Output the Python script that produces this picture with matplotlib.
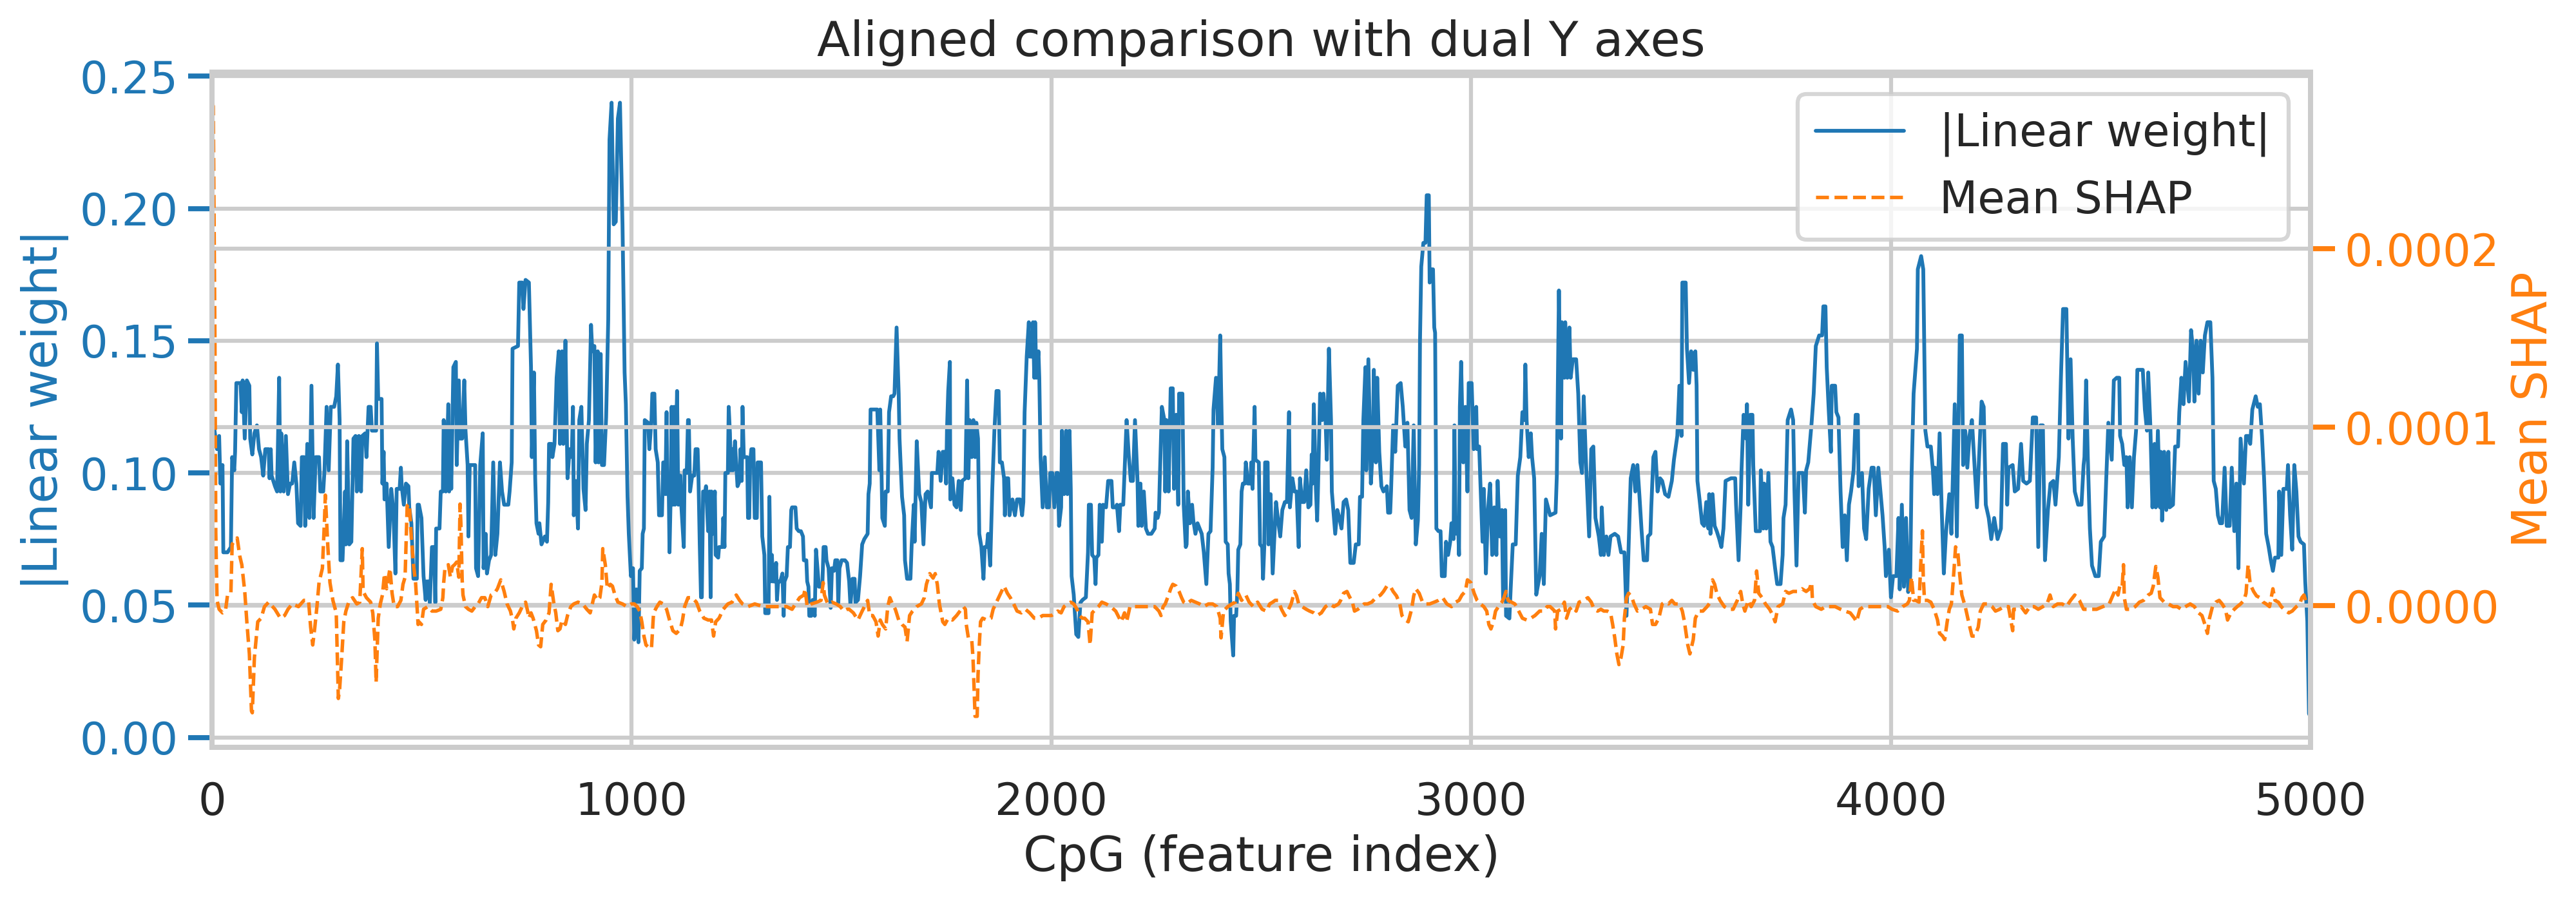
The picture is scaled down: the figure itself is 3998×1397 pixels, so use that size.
import numpy as np
import matplotlib
matplotlib.use("Agg")
import matplotlib.pyplot as plt
import seaborn as sns

# |linear weight| per CpG as (feature index, value)
weight_trace = [
    (0, 0.123), (6, 0.116), (12, 0.109), (17, 0.114), (20, 0.096), (25, 0.103), (27, 0.070), (37, 0.070),
    (45, 0.072), (48, 0.106), (53, 0.101), (55, 0.108), (58, 0.134), (68, 0.134), (71, 0.123), (73, 0.135),
    (78, 0.113), (83, 0.135), (89, 0.133), (91, 0.113), (96, 0.107), (101, 0.115), (107, 0.118), (112, 0.109),
    (117, 0.106), (122, 0.099), (127, 0.109), (135, 0.109), (137, 0.098), (140, 0.109), (142, 0.099), (150, 0.095),
    (155, 0.093), (160, 0.136), (163, 0.093), (165, 0.115), (171, 0.093), (176, 0.114), (181, 0.092), (186, 0.096),
    (191, 0.096), (196, 0.104), (201, 0.096), (205, 0.081), (211, 0.080), (214, 0.106), (219, 0.106), (222, 0.080),
    (227, 0.111), (232, 0.083), (237, 0.133), (242, 0.083), (247, 0.106), (255, 0.106), (258, 0.093), (265, 0.093),
    (268, 0.101), (273, 0.125), (278, 0.101), (283, 0.125), (291, 0.125), (296, 0.129), (300, 0.141), (304, 0.120),
    (306, 0.067), (311, 0.067), (317, 0.093), (319, 0.073), (322, 0.112), (327, 0.073), (332, 0.074), (337, 0.113),
    (342, 0.114), (345, 0.093), (350, 0.114), (355, 0.093), (358, 0.114), (365, 0.115), (368, 0.106), (373, 0.125),
    (378, 0.125), (381, 0.116), (391, 0.116), (393, 0.149), (396, 0.128), (404, 0.128), (406, 0.096), (409, 0.108),
    (411, 0.090), (416, 0.096), (421, 0.072), (427, 0.094), (432, 0.086), (437, 0.062), (440, 0.094), (447, 0.094),
    (450, 0.102), (452, 0.095), (457, 0.088), (462, 0.096), (468, 0.095), (470, 0.087), (475, 0.081), (480, 0.060),
    (488, 0.060), (490, 0.088), (493, 0.088), (499, 0.083), (504, 0.061), (509, 0.052), (511, 0.059), (516, 0.059),
    (519, 0.051), (524, 0.072), (529, 0.072), (532, 0.051), (534, 0.079), (542, 0.079), (545, 0.093), (550, 0.093),
    (552, 0.120), (557, 0.093), (563, 0.126), (565, 0.093), (568, 0.113), (570, 0.094), (575, 0.140), (581, 0.142),
    (583, 0.103), (588, 0.135), (591, 0.113), (596, 0.113), (601, 0.135), (604, 0.116), (609, 0.103), (611, 0.076),
    (614, 0.103), (627, 0.103), (629, 0.064), (634, 0.061), (639, 0.103), (645, 0.115), (647, 0.064), (652, 0.077),
    (655, 0.062), (660, 0.067), (665, 0.069), (670, 0.104), (675, 0.069), (680, 0.077), (686, 0.104), (691, 0.093),
    (696, 0.088), (706, 0.088), (709, 0.093), (714, 0.104), (716, 0.147), (729, 0.148), (732, 0.172), (739, 0.172),
    (742, 0.162), (747, 0.173), (755, 0.172), (760, 0.140), (762, 0.106), (767, 0.138), (770, 0.098), (773, 0.081),
    (778, 0.077), (780, 0.081), (785, 0.073), (793, 0.076), (798, 0.074), (801, 0.089), (803, 0.111), (809, 0.111),
    (811, 0.106), (816, 0.111), (821, 0.136), (826, 0.146), (829, 0.111), (834, 0.146), (837, 0.111), (842, 0.150),
    (847, 0.098), (852, 0.109), (857, 0.106), (860, 0.125), (862, 0.084), (867, 0.097), (872, 0.079), (875, 0.120),
    (880, 0.125), (885, 0.094), (890, 0.086), (893, 0.111), (898, 0.120), (903, 0.156), (906, 0.146), (911, 0.148),
    (914, 0.104), (919, 0.146), (921, 0.104), (926, 0.145), (929, 0.103), (934, 0.103), (939, 0.121), (944, 0.158),
    (947, 0.226), (952, 0.240), (957, 0.194), (962, 0.195), (967, 0.234), (972, 0.240), (978, 0.194), (983, 0.138),
    (986, 0.126), (990, 0.091), (993, 0.077), (998, 0.061), (1003, 0.064), (1006, 0.037), (1011, 0.056), (1016, 0.036),
    (1019, 0.063), (1024, 0.064), (1026, 0.077), (1029, 0.079), (1031, 0.120), (1039, 0.119), (1042, 0.109), (1047, 0.120),
    (1049, 0.130), (1054, 0.130), (1057, 0.109), (1062, 0.104), (1065, 0.084), (1072, 0.084), (1075, 0.104), (1077, 0.104),
    (1080, 0.092), (1083, 0.123), (1085, 0.092), (1088, 0.096), (1090, 0.070), (1093, 0.093), (1095, 0.125), (1098, 0.088),
    (1101, 0.125), (1103, 0.088), (1106, 0.116), (1108, 0.131), (1111, 0.088), (1116, 0.099), (1118, 0.088), (1124, 0.072),
    (1126, 0.101), (1131, 0.100), (1134, 0.120), (1136, 0.120), (1139, 0.093), (1144, 0.099), (1149, 0.099), (1152, 0.109),
    (1157, 0.109), (1159, 0.098), (1162, 0.073), (1165, 0.053), (1167, 0.053), (1170, 0.093), (1175, 0.093), (1177, 0.095),
    (1182, 0.078), (1185, 0.093), (1188, 0.053), (1190, 0.093), (1193, 0.077), (1198, 0.093), (1200, 0.069), (1206, 0.068),
    (1208, 0.072), (1216, 0.072), (1218, 0.083), (1221, 0.072), (1223, 0.100), (1229, 0.100), (1231, 0.125), (1234, 0.115),
    (1236, 0.101), (1239, 0.109), (1241, 0.101), (1246, 0.112), (1249, 0.103), (1252, 0.095), (1257, 0.097), (1259, 0.109),
    (1262, 0.097), (1264, 0.125), (1267, 0.106), (1275, 0.106), (1277, 0.083), (1280, 0.083), (1282, 0.104), (1285, 0.109),
    (1290, 0.109), (1293, 0.083), (1298, 0.083), (1300, 0.104), (1308, 0.104), (1311, 0.076), (1316, 0.069), (1318, 0.047),
    (1326, 0.047), (1328, 0.091), (1331, 0.059), (1334, 0.069), (1336, 0.059), (1341, 0.059), (1344, 0.066), (1346, 0.052),
    (1349, 0.059), (1354, 0.059), (1359, 0.062), (1362, 0.046), (1364, 0.059), (1369, 0.061), (1372, 0.072), (1377, 0.072),
    (1380, 0.086), (1382, 0.087), (1390, 0.087), (1393, 0.079), (1398, 0.078), (1403, 0.078), (1408, 0.076), (1410, 0.067),
    (1416, 0.067), (1418, 0.059), (1421, 0.057), (1423, 0.046), (1428, 0.046), (1431, 0.052), (1436, 0.046), (1439, 0.071),
    (1446, 0.057), (1454, 0.057), (1457, 0.072), (1462, 0.072), (1464, 0.067), (1469, 0.064), (1474, 0.049), (1477, 0.064),
    (1482, 0.063), (1485, 0.067), (1490, 0.067), (1492, 0.050), (1495, 0.064), (1500, 0.067), (1505, 0.067), (1508, 0.067),
    (1513, 0.066), (1518, 0.059), (1521, 0.050), (1526, 0.060), (1531, 0.060), (1533, 0.051), (1539, 0.052), (1544, 0.061),
    (1549, 0.073), (1554, 0.075), (1562, 0.077), (1564, 0.092), (1567, 0.096), (1569, 0.124), (1585, 0.124), (1590, 0.101),
    (1592, 0.124), (1595, 0.101), (1597, 0.083), (1603, 0.080), (1605, 0.093), (1610, 0.093), (1613, 0.123), (1618, 0.129),
    (1623, 0.129), (1626, 0.130), (1631, 0.155), (1636, 0.130), (1638, 0.113), (1644, 0.091), (1649, 0.084), (1651, 0.067),
    (1656, 0.060), (1664, 0.060), (1667, 0.073), (1672, 0.088), (1674, 0.074), (1679, 0.112), (1685, 0.092), (1690, 0.089),
    (1695, 0.073), (1700, 0.092), (1705, 0.093), (1713, 0.087), (1715, 0.100), (1728, 0.100), (1731, 0.108), (1736, 0.097),
    (1741, 0.108), (1746, 0.108), (1749, 0.096), (1751, 0.116), (1754, 0.131), (1758, 0.142), (1759, 0.090), (1764, 0.098),
    (1769, 0.088), (1774, 0.087), (1779, 0.097), (1784, 0.086), (1787, 0.097), (1795, 0.098), (1799, 0.135), (1802, 0.098),
    (1805, 0.120), (1810, 0.106), (1814, 0.120), (1818, 0.106), (1821, 0.119), (1825, 0.113), (1828, 0.077), (1833, 0.072),
    (1838, 0.060), (1841, 0.072), (1846, 0.072), (1849, 0.077), (1854, 0.065), (1856, 0.077), (1859, 0.094), (1864, 0.116),
    (1869, 0.131), (1874, 0.131), (1877, 0.104), (1882, 0.104), (1887, 0.098), (1889, 0.084), (1892, 0.098), (1897, 0.098),
    (1900, 0.084), (1902, 0.086), (1907, 0.090), (1913, 0.084), (1918, 0.090), (1925, 0.090), (1930, 0.084), (1933, 0.089),
    (1936, 0.123), (1941, 0.144), (1946, 0.157), (1948, 0.144), (1954, 0.144), (1956, 0.157), (1959, 0.136), (1961, 0.157),
    (1964, 0.136), (1969, 0.146), (1971, 0.136), (1974, 0.106), (1979, 0.087), (1984, 0.106), (1989, 0.087), (1994, 0.087),
    (1997, 0.100), (2002, 0.100), (2007, 0.087), (2012, 0.100), (2015, 0.100), (2018, 0.080), (2023, 0.087), (2025, 0.116),
    (2030, 0.092), (2035, 0.116), (2038, 0.092), (2043, 0.116), (2046, 0.094), (2048, 0.061), (2053, 0.054), (2059, 0.039),
    (2064, 0.038), (2069, 0.051), (2074, 0.052), (2082, 0.053), (2087, 0.070), (2089, 0.088), (2094, 0.088), (2097, 0.069),
    (2102, 0.068), (2105, 0.058), (2107, 0.068), (2112, 0.069), (2115, 0.088), (2120, 0.074), (2123, 0.088), (2130, 0.087),
    (2135, 0.097), (2143, 0.097), (2146, 0.087), (2153, 0.087), (2156, 0.088), (2161, 0.078), (2164, 0.088), (2171, 0.088),
    (2174, 0.100), (2179, 0.120), (2184, 0.107), (2189, 0.097), (2194, 0.097), (2199, 0.120), (2205, 0.097), (2207, 0.080),
    (2212, 0.096), (2215, 0.080), (2220, 0.093), (2225, 0.079), (2230, 0.077), (2238, 0.077), (2246, 0.079), (2248, 0.085),
    (2253, 0.083), (2256, 0.085), (2258, 0.097), (2263, 0.125), (2269, 0.120), (2271, 0.093), (2274, 0.120), (2279, 0.093),
    (2284, 0.132), (2289, 0.132), (2292, 0.094), (2297, 0.122), (2302, 0.088), (2304, 0.130), (2312, 0.130), (2315, 0.088),
    (2320, 0.072), (2322, 0.073), (2325, 0.093), (2330, 0.081), (2335, 0.088), (2338, 0.082), (2343, 0.077), (2348, 0.081),
    (2353, 0.079), (2358, 0.077), (2363, 0.070), (2369, 0.058), (2374, 0.077), (2379, 0.078), (2384, 0.102), (2386, 0.124),
    (2392, 0.136), (2397, 0.118), (2402, 0.152), (2404, 0.133), (2407, 0.109), (2412, 0.106), (2415, 0.074), (2420, 0.073),
    (2422, 0.062), (2425, 0.058), (2427, 0.044), (2433, 0.031), (2435, 0.046), (2440, 0.046), (2443, 0.056), (2445, 0.071),
    (2450, 0.073), (2453, 0.093), (2456, 0.096), (2461, 0.096), (2463, 0.104), (2468, 0.096), (2474, 0.096), (2476, 0.104),
    (2479, 0.094), (2484, 0.125), (2486, 0.105), (2494, 0.104), (2497, 0.073), (2502, 0.072), (2504, 0.060), (2507, 0.072),
    (2509, 0.104), (2515, 0.104), (2517, 0.073), (2520, 0.091), (2522, 0.092), (2527, 0.062), (2530, 0.072), (2535, 0.089),
    (2540, 0.082), (2545, 0.076), (2550, 0.086), (2556, 0.089), (2561, 0.089), (2566, 0.123), (2568, 0.087), (2574, 0.098),
    (2579, 0.093), (2584, 0.093), (2589, 0.072), (2592, 0.098), (2597, 0.089), (2602, 0.089), (2607, 0.101), (2612, 0.087),
    (2617, 0.088), (2620, 0.107), (2622, 0.096), (2625, 0.126), (2630, 0.094), (2633, 0.082), (2635, 0.094), (2640, 0.130),
    (2645, 0.120), (2648, 0.130), (2653, 0.120), (2656, 0.105), (2661, 0.147), (2666, 0.120), (2668, 0.093), (2673, 0.083),
    (2676, 0.077), (2681, 0.086), (2686, 0.083), (2691, 0.079), (2696, 0.089), (2702, 0.090), (2707, 0.086), (2712, 0.066),
    (2720, 0.066), (2725, 0.073), (2732, 0.073), (2735, 0.091), (2740, 0.091), (2743, 0.120), (2748, 0.140), (2750, 0.101),
    (2755, 0.143), (2761, 0.096), (2766, 0.111), (2768, 0.139), (2773, 0.104), (2776, 0.136), (2781, 0.108), (2786, 0.095),
    (2791, 0.093), (2799, 0.095), (2802, 0.085), (2807, 0.085), (2809, 0.093), (2814, 0.118), (2819, 0.108), (2825, 0.133),
    (2832, 0.134), (2837, 0.125), (2843, 0.110), (2848, 0.119), (2853, 0.086), (2858, 0.083), (2863, 0.118), (2868, 0.073),
    (2873, 0.082), (2876, 0.103), (2878, 0.150), (2881, 0.178), (2886, 0.187), (2891, 0.187), (2894, 0.205), (2899, 0.205),
    (2901, 0.172), (2904, 0.177), (2909, 0.177), (2912, 0.155), (2914, 0.153), (2917, 0.079), (2922, 0.078), (2927, 0.078),
    (2930, 0.061), (2937, 0.061), (2940, 0.074), (2945, 0.069), (2950, 0.074), (2953, 0.081), (2958, 0.075), (2960, 0.118),
    (2963, 0.077), (2968, 0.083), (2971, 0.069), (2973, 0.125), (2976, 0.142), (2981, 0.104), (2986, 0.125), (2991, 0.093),
    (2994, 0.134), (3001, 0.134), (3006, 0.109), (3012, 0.125), (3014, 0.109), (3019, 0.110), (3022, 0.096), (3027, 0.074),
    (3030, 0.094), (3035, 0.062), (3040, 0.086), (3045, 0.096), (3050, 0.069), (3055, 0.087), (3060, 0.069), (3063, 0.097),
    (3068, 0.076), (3073, 0.086), (3076, 0.052), (3081, 0.086), (3083, 0.046), (3091, 0.045), (3094, 0.056), (3099, 0.073),
    (3106, 0.073), (3111, 0.099), (3117, 0.106), (3122, 0.123), (3127, 0.120), (3129, 0.141), (3132, 0.120), (3137, 0.106),
    (3142, 0.115), (3145, 0.106), (3150, 0.098), (3155, 0.054), (3163, 0.061), (3168, 0.077), (3173, 0.058), (3178, 0.090),
    (3188, 0.084), (3201, 0.085), (3204, 0.099), (3206, 0.128), (3209, 0.169), (3214, 0.113), (3216, 0.157), (3222, 0.136),
    (3224, 0.157), (3229, 0.136), (3234, 0.155), (3237, 0.136), (3242, 0.143), (3250, 0.143), (3255, 0.130), (3260, 0.104),
    (3264, 0.100), (3268, 0.129), (3273, 0.106), (3281, 0.076), (3286, 0.109), (3291, 0.110), (3296, 0.083), (3304, 0.076),
    (3309, 0.069), (3311, 0.087), (3316, 0.069), (3322, 0.076), (3327, 0.069), (3332, 0.076), (3342, 0.077), (3350, 0.076),
    (3357, 0.070), (3365, 0.070), (3370, 0.046), (3375, 0.072), (3380, 0.098), (3386, 0.103), (3391, 0.093), (3396, 0.103),
    (3401, 0.091), (3406, 0.078), (3411, 0.067), (3419, 0.067), (3421, 0.076), (3427, 0.077), (3429, 0.087), (3434, 0.106),
    (3439, 0.108), (3444, 0.093), (3450, 0.098), (3455, 0.097), (3462, 0.092), (3470, 0.091), (3478, 0.097), (3483, 0.105),
    (3491, 0.114), (3496, 0.133), (3501, 0.114), (3503, 0.172), (3511, 0.172), (3514, 0.147), (3519, 0.134), (3524, 0.146),
    (3529, 0.139), (3534, 0.146), (3537, 0.133), (3539, 0.097), (3544, 0.090), (3550, 0.081), (3555, 0.080), (3560, 0.089),
    (3565, 0.079), (3567, 0.092), (3570, 0.077), (3575, 0.092), (3580, 0.080), (3585, 0.078), (3591, 0.075), (3596, 0.072),
    (3601, 0.079), (3606, 0.097), (3619, 0.098), (3629, 0.098), (3631, 0.088), (3637, 0.067), (3642, 0.088), (3644, 0.101),
    (3649, 0.122), (3655, 0.113), (3657, 0.126), (3660, 0.088), (3665, 0.122), (3670, 0.122), (3672, 0.103), (3678, 0.078),
    (3688, 0.078), (3690, 0.101), (3696, 0.079), (3698, 0.096), (3703, 0.079), (3708, 0.100), (3713, 0.074), (3718, 0.072),
    (3724, 0.064), (3729, 0.058), (3737, 0.058), (3742, 0.069), (3744, 0.083), (3749, 0.088), (3754, 0.120), (3762, 0.124),
    (3767, 0.120), (3770, 0.094), (3775, 0.065), (3780, 0.100), (3790, 0.100), (3795, 0.085), (3798, 0.101), (3803, 0.104),
    (3811, 0.119), (3816, 0.130), (3821, 0.148), (3829, 0.152), (3836, 0.152), (3839, 0.163), (3844, 0.163), (3847, 0.140),
    (3852, 0.123), (3857, 0.108), (3859, 0.133), (3867, 0.133), (3870, 0.123), (3875, 0.121), (3880, 0.093), (3885, 0.072),
    (3890, 0.084), (3895, 0.067), (3900, 0.088), (3905, 0.093), (3911, 0.101), (3916, 0.122), (3921, 0.122), (3923, 0.095),
    (3931, 0.100), (3936, 0.079), (3941, 0.075), (3947, 0.094), (3954, 0.102), (3959, 0.102), (3964, 0.084), (3970, 0.102),
    (3975, 0.093), (3980, 0.084), (3985, 0.072), (3988, 0.061), (3995, 0.071), (4000, 0.053), (4005, 0.061), (4013, 0.061),
    (4018, 0.083), (4021, 0.056), (4026, 0.088), (4031, 0.057), (4036, 0.083), (4041, 0.055), (4046, 0.061), (4049, 0.098),
    (4054, 0.130), (4062, 0.147), (4064, 0.177), (4072, 0.182), (4077, 0.177), (4082, 0.116), (4087, 0.110), (4095, 0.110),
    (4100, 0.101), (4103, 0.092), (4105, 0.102), (4111, 0.092), (4116, 0.115), (4121, 0.086), (4126, 0.062), (4131, 0.077),
    (4139, 0.092), (4144, 0.077), (4152, 0.126), (4157, 0.076), (4164, 0.152), (4169, 0.152), (4172, 0.103), (4177, 0.116),
    (4182, 0.102), (4187, 0.114), (4193, 0.120), (4198, 0.106), (4205, 0.087), (4210, 0.106), (4216, 0.127), (4221, 0.125),
    (4226, 0.088), (4233, 0.083), (4239, 0.075), (4246, 0.083), (4254, 0.075), (4262, 0.079), (4267, 0.111), (4274, 0.111),
    (4277, 0.088), (4280, 0.102), (4290, 0.103), (4295, 0.093), (4303, 0.094), (4310, 0.111), (4315, 0.097), (4323, 0.096),
    (4331, 0.097), (4338, 0.121), (4346, 0.121), (4351, 0.072), (4356, 0.118), (4362, 0.118), (4367, 0.067), (4374, 0.086),
    (4380, 0.096), (4387, 0.097), (4392, 0.088), (4400, 0.106), (4405, 0.136), (4410, 0.162), (4418, 0.162), (4423, 0.113),
    (4428, 0.143), (4433, 0.113), (4438, 0.093), (4446, 0.088), (4454, 0.088), (4459, 0.103), (4461, 0.106), (4465, 0.135),
    (4469, 0.106), (4474, 0.079), (4479, 0.065), (4487, 0.061), (4495, 0.061), (4500, 0.074), (4508, 0.076), (4513, 0.098),
    (4518, 0.119), (4526, 0.105), (4531, 0.135), (4538, 0.136), (4544, 0.136), (4546, 0.114), (4551, 0.111), (4556, 0.103),
    (4561, 0.106), (4564, 0.087), (4569, 0.106), (4574, 0.087), (4579, 0.106), (4584, 0.116), (4587, 0.139), (4600, 0.139),
    (4605, 0.124), (4610, 0.116), (4613, 0.138), (4618, 0.118), (4623, 0.087), (4628, 0.111), (4631, 0.087), (4636, 0.116),
    (4641, 0.087), (4643, 0.108), (4646, 0.082), (4651, 0.108), (4656, 0.086), (4661, 0.108), (4664, 0.087), (4672, 0.088),
    (4677, 0.110), (4684, 0.110), (4687, 0.123), (4692, 0.136), (4697, 0.126), (4702, 0.142), (4710, 0.127), (4715, 0.154),
    (4720, 0.146), (4723, 0.127), (4728, 0.150), (4733, 0.130), (4738, 0.150), (4743, 0.138), (4748, 0.152), (4754, 0.157),
    (4761, 0.157), (4766, 0.136), (4769, 0.097), (4774, 0.094), (4779, 0.084), (4784, 0.081), (4789, 0.081), (4795, 0.102),
    (4800, 0.080), (4807, 0.080), (4812, 0.102), (4818, 0.078), (4823, 0.096), (4828, 0.064), (4833, 0.113), (4841, 0.096),
    (4846, 0.114), (4851, 0.114), (4856, 0.111), (4861, 0.124), (4869, 0.129), (4874, 0.125), (4879, 0.126), (4884, 0.114),
    (4889, 0.098), (4894, 0.077), (4900, 0.072), (4905, 0.067), (4910, 0.063), (4915, 0.068), (4923, 0.068), (4925, 0.093),
    (4930, 0.069), (4935, 0.094), (4943, 0.094), (4946, 0.103), (4951, 0.084), (4956, 0.071), (4961, 0.103), (4966, 0.093),
    (4971, 0.076), (4976, 0.074), (4984, 0.073), (4987, 0.059), (4992, 0.044), (4996, 0.009), (4999, 0.008),
]

# mean SHAP per CpG, (feature index, value in units of 1e-4)
shap_trace = [
    (0, 2.82), (3, 2.80), (7, 1.48), (9, 0.41), (12, 0.03), (17, -0.02), (25, -0.04), (32, -0.03), (37, 0.06),
    (45, 0.07), (48, 0.345), (53, 0.36), (60, 0.38), (66, 0.28), (71, 0.23), (78, 0.08), (83, -0.09), (89, -0.27),
    (94, -0.59), (96, -0.60), (101, -0.29), (109, -0.09), (117, -0.07), (125, -0.005), (135, 0.02), (150, -0.02),
    (163, -0.07), (173, -0.055), (181, -0.02), (191, 0.01), (206, -0.005), (219, 0.03), (230, 0.03), (235, -0.12),
    (240, -0.22), (245, -0.12), (250, -0.005), (255, 0.13), (263, 0.21), (268, 0.48), (270, 0.62), (276, 0.33),
    (281, 0.13), (288, 0.03), (296, -0.04), (301, -0.52), (304, -0.47), (309, -0.29), (314, -0.09), (319, -0.03),
    (327, 0.03), (335, 0.045), (345, 0.01), (352, 0.02), (358, 0.32), (360, 0.08), (368, 0.045), (378, 0.02),
    (383, -0.04), (388, -0.19), (391, -0.43), (396, -0.07), (401, 0.01), (406, 0.06), (411, 0.18), (416, 0.095),
    (424, 0.21), (429, 0.07), (434, -0.005), (442, -0.005), (450, 0.03), (455, 0.12), (460, 0.16), (465, 0.56),
    (470, 0.57), (475, 0.38), (480, 0.23), (485, 0.13), (491, -0.105), (493, -0.09), (499, -0.105), (504, -0.02),
    (514, -0.005), (524, -0.03), (534, -0.03), (545, -0.02), (550, 0.045), (552, 0.13), (555, 0.21), (563, 0.23),
    (568, 0.16), (573, 0.22), (578, 0.23), (583, 0.245), (588, 0.16), (591, 0.57), (593, 0.46), (596, 0.145),
    (598, 0.06), (604, -0.005), (611, -0.02), (619, -0.03), (627, -0.005), (634, 0.01), (642, 0.045), (650, 0.045),
    (657, -0.005), (665, 0.06), (673, 0.07), (680, 0.095), (688, 0.145), (696, 0.08), (703, 0.01), (711, -0.03),
    (716, -0.08), (719, -0.13), (724, -0.07), (732, -0.04), (739, -0.005), (747, 0.02), (752, -0.03), (755, -0.07),
    (760, -0.04), (765, -0.07), (773, -0.14), (778, -0.22), (783, -0.23), (788, -0.105), (796, -0.08), (803, -0.04),
    (808, 0.12), (814, 0.02), (819, -0.04), (824, -0.14), (829, -0.13), (834, -0.08), (842, -0.105), (847, -0.055),
    (855, -0.005), (862, 0.01), (872, 0.02), (883, 0.01), (893, -0.02), (901, -0.04), (906, 0.01), (911, 0.06),
    (919, 0.03), (924, 0.045), (929, 0.13), (931, 0.32), (937, 0.23), (942, 0.095), (949, 0.12), (954, 0.11),
    (960, 0.06), (967, 0.02), (978, 0.01), (988, -0.005), (999, 0.01), (1006, 0.01), (1013, -0.005), (1019, -0.03),
    (1024, -0.09), (1029, -0.17), (1034, -0.22), (1039, -0.23), (1047, -0.24), (1052, -0.04), (1060, -0.005),
    (1067, 0.02), (1075, 0.01), (1083, -0.02), (1090, -0.08), (1098, -0.14), (1106, -0.155), (1116, -0.13),
    (1121, -0.08), (1126, -0.005), (1134, 0.045), (1144, 0.045), (1154, 0.02), (1162, -0.03), (1172, -0.07),
    (1182, -0.08), (1190, -0.08), (1195, -0.17), (1200, -0.09), (1208, -0.07), (1218, -0.02), (1229, 0.01),
    (1239, 0.02), (1249, 0.06), (1257, 0.03), (1264, 0.01), (1277, -0.005), (1293, 0.01), (1313, -0.005),
    (1334, -0.005), (1354, -0.005), (1369, -0.005), (1382, -0.02), (1390, 0.01), (1400, 0.045), (1410, 0.06),
    (1413, 0.095), (1418, -0.005), (1428, 0.01), (1441, 0.02), (1451, 0.03), (1456, 0.13), (1459, 0.06),
    (1467, 0.01), (1477, 0.02), (1487, 0.01), (1497, -0.005), (1505, -0.03), (1513, -0.02), (1518, -0.02),
    (1528, -0.04), (1539, -0.08), (1549, -0.03), (1562, 0.03), (1567, -0.055), (1574, -0.055), (1582, -0.09),
    (1587, -0.17), (1592, -0.08), (1597, -0.105), (1605, -0.13), (1610, -0.005), (1615, 0.045), (1621, 0.01),
    (1628, -0.02), (1636, -0.08), (1644, -0.105), (1651, -0.12), (1656, -0.20), (1662, -0.055), (1669, -0.03),
    (1679, -0.005), (1690, 0.01), (1697, 0.045), (1702, 0.12), (1710, 0.18), (1718, 0.155), (1723, 0.18),
    (1728, 0.12), (1733, 0.01), (1741, -0.09), (1746, -0.105), (1754, -0.07), (1764, -0.08), (1774, -0.055),
    (1782, -0.03), (1790, -0.005), (1795, -0.02), (1797, -0.105), (1802, -0.18), (1810, -0.19), (1813, -0.29),
    (1815, -0.42), (1818, -0.62), (1823, -0.62), (1825, -0.39), (1828, -0.22), (1831, -0.09), (1836, -0.07),
    (1846, -0.08), (1856, -0.07), (1861, -0.02), (1869, 0.02), (1877, 0.06), (1887, 0.11), (1895, 0.07),
    (1902, 0.045), (1910, 0.01), (1918, -0.03), (1928, -0.04), (1938, -0.02), (1948, -0.04), (1959, -0.07),
    (1969, -0.07), (1979, -0.055), (1989, -0.055), (2000, -0.055), (2010, -0.04), (2015, -0.03), (2023, -0.04),
    (2030, -0.005), (2038, 0.01), (2046, 0.02), (2053, 0.01), (2061, -0.02), (2066, -0.055), (2074, -0.07),
    (2079, -0.07), (2087, -0.09), (2092, -0.22), (2097, -0.04), (2105, -0.02), (2112, -0.005), (2120, 0.02),
    (2130, 0.01), (2141, -0.005), (2153, -0.03), (2166, -0.09), (2174, -0.04), (2179, -0.09), (2187, -0.005),
    (2199, -0.005), (2215, -0.005), (2230, -0.005), (2246, -0.005), (2256, -0.03), (2261, -0.055), (2266, -0.005),
    (2271, 0.01), (2279, 0.06), (2284, 0.095), (2289, 0.12), (2297, 0.11), (2304, 0.08), (2310, 0.045),
    (2315, 0.02), (2322, 0.01), (2333, 0.03), (2343, 0.02), (2353, 0.01), (2363, -0.005), (2374, 0.01),
    (2384, 0.01), (2394, -0.005), (2402, -0.07), (2404, -0.18), (2410, -0.03), (2420, -0.005), (2430, 0.01),
    (2438, 0.02), (2445, 0.07), (2453, 0.03), (2463, 0.06), (2471, 0.02), (2481, -0.005), (2491, 0.02),
    (2502, -0.02), (2512, -0.03), (2520, 0.01), (2527, 0.02), (2533, 0.03), (2540, 0.03), (2548, -0.02),
    (2556, -0.055), (2563, -0.03), (2571, 0.01), (2579, 0.08), (2584, 0.055), (2589, 0.01), (2597, -0.005),
    (2607, -0.02), (2615, -0.03), (2625, -0.04), (2633, -0.055), (2643, -0.04), (2653, -0.005), (2663, 0.01),
    (2673, -0.005), (2684, 0.01), (2689, 0.03), (2696, 0.07), (2704, 0.08), (2709, 0.055), (2717, 0.02),
    (2722, -0.03), (2730, -0.02), (2738, -0.005), (2745, 0.01), (2753, 0.01), (2763, 0.02), (2773, 0.045),
    (2784, 0.06), (2791, 0.08), (2799, 0.11), (2807, 0.11), (2814, 0.08), (2822, 0.055), (2830, 0.01),
    (2835, -0.055), (2843, -0.08), (2850, -0.09), (2858, -0.02), (2863, 0.055), (2868, 0.095), (2876, 0.07),
    (2884, 0.02), (2891, 0.01), (2901, 0.01), (2912, 0.02), (2922, 0.03), (2932, 0.045), (2942, 0.01),
    (2953, -0.005), (2963, 0.02), (2971, 0.03), (2978, 0.06), (2986, 0.08), (2991, 0.145), (2999, 0.13),
    (3007, 0.07), (3014, 0.03), (3022, 0.01), (3030, -0.005), (3037, -0.03), (3042, -0.105), (3047, -0.13),
    (3053, -0.09), (3058, -0.03), (3065, -0.005), (3073, 0.02), (3078, 0.045), (3083, 0.08), (3088, 0.03),
    (3096, 0.02), (3104, 0.01), (3111, -0.02), (3122, -0.07), (3132, -0.08), (3142, -0.07), (3152, -0.055),
    (3163, -0.03), (3173, -0.03), (3181, -0.005), (3188, -0.005), (3199, -0.03), (3201, -0.13), (3206, -0.03),
    (3214, -0.02), (3222, 0.02), (3227, -0.07), (3234, -0.02), (3242, -0.005), (3250, -0.03), (3257, 0.02),
    (3268, 0.03), (3278, 0.045), (3286, 0.02), (3293, -0.02), (3301, -0.03), (3309, -0.02), (3316, -0.03),
    (3324, -0.03), (3332, -0.04), (3337, -0.105), (3342, -0.18), (3347, -0.27), (3352, -0.33), (3357, -0.29),
    (3362, -0.22), (3365, -0.07), (3370, 0.045), (3375, 0.07), (3383, 0.045), (3388, 0.01), (3396, -0.03),
    (3406, -0.02), (3416, -0.005), (3427, -0.02), (3432, -0.105), (3439, -0.105), (3447, -0.07), (3455, 0.01),
    (3462, 0.02), (3470, 0.01), (3478, 0.03), (3485, 0.01), (3496, 0.01), (3503, -0.03), (3508, -0.09),
    (3516, -0.22), (3521, -0.27), (3529, -0.19), (3534, -0.07), (3542, -0.03), (3552, -0.03), (3562, -0.005),
    (3570, 0.02), (3573, 0.095), (3575, 0.145), (3580, 0.12), (3585, 0.07), (3593, 0.03), (3603, -0.005),
    (3614, -0.02), (3624, -0.02), (3634, 0.03), (3642, 0.08), (3647, 0.01), (3652, -0.03), (3660, 0.03),
    (3667, -0.005), (3675, 0.03), (3680, 0.195), (3685, 0.07), (3693, 0.045), (3701, 0.01), (3711, -0.02),
    (3719, -0.055), (3724, -0.09), (3731, -0.005), (3742, 0.01), (3749, 0.08), (3757, 0.07), (3767, 0.08),
    (3777, 0.08), (3788, 0.095), (3798, 0.08), (3806, 0.095), (3811, 0.13), (3813, 0.03), (3821, -0.005),
    (3834, -0.02), (3844, -0.005), (3854, -0.005), (3867, -0.005), (3880, -0.02), (3890, -0.03), (3903, -0.04),
    (3913, -0.07), (3918, -0.09), (3926, -0.02), (3936, -0.005), (3947, -0.005), (3962, -0.005), (3977, -0.005),
    (3993, -0.005), (4003, -0.02), (4016, -0.03), (4028, -0.005), (4039, 0.01), (4044, 0.03), (4049, 0.16),
    (4054, 0.03), (4059, 0.03), (4067, 0.02), (4072, 0.28), (4075, 0.42), (4077, 0.16), (4080, 0.03),
    (4087, 0.03), (4095, 0.02), (4103, -0.02), (4111, -0.08), (4116, -0.155), (4123, -0.17), (4128, -0.19),
    (4134, -0.09), (4139, -0.02), (4144, 0.01), (4149, 0.16), (4154, 0.33), (4159, 0.31), (4164, 0.17),
    (4169, 0.06), (4177, -0.005), (4185, -0.09), (4193, -0.17), (4200, -0.17), (4208, -0.12), (4213, -0.03),
    (4221, 0.01), (4231, 0.01), (4241, -0.005), (4249, -0.03), (4259, -0.02), (4269, -0.005), (4280, -0.005),
    (4290, -0.14), (4292, -0.02), (4300, -0.02), (4310, -0.005), (4321, -0.04), (4331, -0.005), (4341, -0.005),
    (4351, -0.02), (4362, -0.005), (4372, 0.01), (4379, 0.06), (4387, -0.005), (4397, 0.01), (4408, 0.01),
    (4418, -0.005), (4428, 0.03), (4438, 0.06), (4449, 0.03), (4459, -0.02), (4474, -0.02), (4490, -0.02),
    (4505, -0.005), (4520, 0.01), (4531, 0.07), (4536, 0.095), (4541, 0.06), (4546, 0.12), (4551, 0.11),
    (4554, 0.23), (4556, 0.045), (4561, -0.02), (4572, -0.02), (4582, -0.005), (4592, 0.02), (4602, 0.03),
    (4613, 0.06), (4620, 0.07), (4625, 0.11), (4631, 0.22), (4636, 0.16), (4641, 0.045), (4651, 0.02),
    (4661, 0.01), (4672, -0.005), (4682, -0.005), (4692, -0.02), (4702, -0.005), (4713, 0.01), (4723, -0.005),
    (4733, -0.04), (4741, -0.055), (4748, -0.105), (4754, -0.155), (4759, -0.07), (4766, -0.005), (4774, 0.02),
    (4782, 0.03), (4789, 0.01), (4797, -0.02), (4802, -0.08), (4810, -0.04), (4818, -0.02), (4825, -0.005),
    (4833, 0.01), (4841, 0.03), (4846, 0.07), (4851, 0.23), (4856, 0.12), (4864, 0.08), (4871, 0.055),
    (4879, 0.045), (4887, 0.02), (4894, 0.01), (4902, -0.005), (4910, 0.095), (4915, 0.03), (4923, 0.02),
    (4930, -0.005), (4941, -0.03), (4948, -0.04), (4956, -0.03), (4966, -0.005), (4974, 0.01), (4979, 0.045),
    (4984, 0.06), (4989, 0.02), (4999, 0.0),
]

SHAP_UNIT = 1e-4
N_FEATURES = 5000

sns.set_theme(style="whitegrid", context="talk")
plt.rcParams["font.family"] = ["DejaVu Sans"]

w = np.array(weight_trace, dtype=float)
s = np.array(shap_trace, dtype=float)

fig, ax = plt.subplots(figsize=(3998 / 300, 1397 / 300), dpi=300)
fig.subplots_adjust(left=0.0823, right=0.897, bottom=0.170, top=0.920)

ax.plot(w[:, 0], w[:, 1], color="tab:blue", lw=1.4, label="|Linear weight|")
ax.set_xlim(0, N_FEATURES)
ax.set_xlabel("CpG (feature index)")
ax.set_ylabel("|Linear weight|", color="tab:blue")
ax.tick_params(axis="y", colors="tab:blue")

ax2 = ax.twinx()
ax2.plot(s[:, 0], s[:, 1] * SHAP_UNIT, color="tab:orange", ls="--", lw=1.3, label="Mean SHAP")
ax2.set_ylabel("Mean SHAP", color="tab:orange")
ax2.tick_params(axis="y", colors="tab:orange")

ax.set_title("Aligned comparison with dual Y axes")
h1, l1 = ax.get_legend_handles_labels()
h2, l2 = ax2.get_legend_handles_labels()
ax2.legend(h1 + h2, l1 + l2, loc="upper right")

fig.savefig("out.png", dpi=300)
